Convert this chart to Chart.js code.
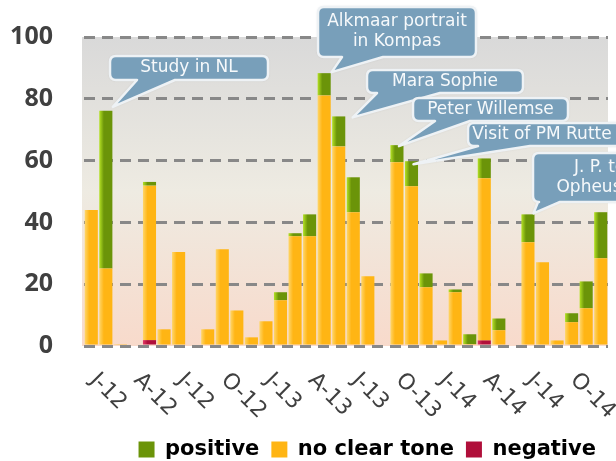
<!DOCTYPE html>
<html>
<head>
<meta charset="utf-8">
<script src="https://cdn.jsdelivr.net/npm/chart.js@4.4.1/dist/chart.umd.min.js"></script>
<style>
  html, body { margin: 0; padding: 0; background: #fff; overflow: hidden; }
  #wrap { position: relative; width: 616px; height: 470px; }
</style>
</head>
<body>
<div id="wrap"><canvas id="toneChart"></canvas></div>
<script>
// ---- data ----
const months = [
  'Jan 2012', 'Feb 2012', 'Mar 2012', 'Apr 2012', 'May 2012', 'Jun 2012',
  'Jul 2012', 'Aug 2012', 'Sep 2012', 'Oct 2012', 'Nov 2012', 'Dec 2012',
  'Jan 2013', 'Feb 2013', 'Mar 2013', 'Apr 2013', 'May 2013', 'Jun 2013',
  'Jul 2013', 'Aug 2013', 'Sep 2013', 'Oct 2013', 'Nov 2013', 'Dec 2013',
  'Jan 2014', 'Feb 2014', 'Mar 2014', 'Apr 2014', 'May 2014', 'Jun 2014',
  'Jul 2014', 'Aug 2014', 'Sep 2014', 'Oct 2014', 'Nov 2014', 'Dec 2014'
];
const tickLabels = ['J-12', 'A-12', 'J-12', 'O-12', 'J-13', 'A-13', 'J-13', 'O-13', 'J-14', 'A-14', 'J-14', 'O-14'];
const tickMonthIndex = [0, 3, 6, 9, 12, 15, 18, 21, 24, 27, 30, 33];

const negative = [
  0, 0, 0, 0, 1.9, 0, 0, 0, 0, 0, 0, 0,
  0, 0, 0, 0, 0, 0, 0, 0, 0, 0, 0, 0,
  0, 0, 0, 1.8, 0, 0, 0, 0, 0, 0, 0, 0
];
const noClearTone = [
  44, 25.1, 0.6, 0, 50, 5.4, 30.4, 0, 5.4, 31.3, 11.5, 2.8,
  8, 14.8, 35.5, 35.5, 81.1, 64.6, 43.3, 22.6, 0, 59.5, 51.7, 19,
  1.8, 17.4, 0.6, 52.5, 5.1, 0, 33.6, 27.1, 1.8, 7.7, 12.2, 28.4
];
const positive = [
  0, 51, 0, 0, 1.2, 0, 0, 0, 0, 0, 0, 0,
  0, 2.6, 1, 7.1, 7.2, 9.7, 11.3, 0, 0, 5.5, 8.1, 4.5,
  0, 0.9, 3.2, 6.4, 3.8, 0, 9, 0, 0, 2.9, 8.7, 14.9
];
const seriesNames = ['positive', 'no clear tone', 'negative'];

const calloutTexts = [
  ['Study in NL'],
  ['Alkmaar portrait', 'in Kompas'],
  ['Mara Sophie'],
  ['Peter Willemse'],
  ['Visit of PM Rutte'],
  ['J. P. ten', 'Opheusden']
];
const calloutMonthIndex = [1, 16, 17, 21, 22, 30];

// ---- styling / layout ----
const colPositive = { light: '#b4e224', base: '#6b9409' };
const colNeutral = { light: '#ffd66a', base: '#ffb514' };
const colNegative = { light: '#e43a68', base: '#b00f3a' };
const textGrey = '#404040';

// callout boxes: [x, y, w, h], pointer base on box bottom, tip offset from bar top
const calloutLayout = [
  { box: [110, 56, 158, 24], base: [137, 175], tip: [7, -4] },
  { box: [318, 7, 158, 50], base: [342, 383], tip: [7.5, -1] },
  { box: [367, 70, 156, 23], base: [377, 440], tip: [14, 1] },
  { box: [413, 98, 155, 23], base: [435, 470], tip: [2, 1] },
  { box: [468, 123, 175, 23], base: [478, 530], tip: [2, 3], cx: 542 },
  { box: [533, 153, 145, 49], base: [538, 560], tip: [5.5, -1], cx: 605 }
];

function barFill(col) {
  return function(context) {
    const chart = context.chart;
    const xs = chart.scales.x;
    if (!chart.chartArea || !xs || context.type !== 'data') return col.base;
    const cx = xs.getPixelForValue(context.dataIndex);
    const w = (xs.width / months.length) * 0.9;
    const g = chart.ctx.createLinearGradient(cx - w / 2, 0, cx + w / 2, 0);
    g.addColorStop(0, col.light);
    g.addColorStop(0.35, col.base);
    g.addColorStop(1, col.base);
    return g;
  };
}

const plotBackground = {
  id: 'plotBackground',
  beforeDraw(chart) {
    const a = chart.chartArea;
    const ctx = chart.ctx;
    const g = ctx.createLinearGradient(0, a.top, 0, a.bottom);
    g.addColorStop(0, '#d9d9d9');
    g.addColorStop(0.5, '#eeebe2');
    g.addColorStop(1, '#f8dacb');
    ctx.save();
    ctx.fillStyle = g;
    ctx.fillRect(a.left - 2, a.top, a.right - a.left + 2, a.bottom - a.top);
    ctx.restore();
  }
};

const monthLabels = {
  id: 'monthLabels',
  afterDraw(chart) {
    const ctx = chart.ctx;
    const xs = chart.scales.x;
    ctx.save();
    ctx.font = '22px "DejaVu Sans"';
    ctx.fillStyle = textGrey;
    ctx.textAlign = 'left';
    ctx.textBaseline = 'middle';
    tickLabels.forEach(function(t, i) {
      const x = xs.getPixelForValue(tickMonthIndex[i]);
      ctx.save();
      ctx.translate(x + 2, chart.chartArea.bottom + 31);
      ctx.rotate(Math.PI / 4);
      ctx.fillText(t, 0, 0);
      ctx.restore();
    });
    ctx.restore();
  }
};

const callouts = {
  id: 'callouts',
  afterDraw(chart) {
    const ctx = chart.ctx;
    const topMeta = chart.getDatasetMeta(2); // positive sits on top of the stack
    calloutTexts.forEach(function(lines, i) {
      const lay = calloutLayout[i];
      const bar = topMeta.data[calloutMonthIndex[i]];
      const tx = bar.x + lay.tip[0];
      const ty = bar.y + lay.tip[1];
      const [x, y, w, h] = lay.box;
      const r = 6;
      const b = y + h;
      ctx.save();
      ctx.beginPath();
      ctx.moveTo(x + r, y);
      ctx.lineTo(x + w - r, y);
      ctx.quadraticCurveTo(x + w, y, x + w, y + r);
      ctx.lineTo(x + w, b - r);
      ctx.quadraticCurveTo(x + w, b, x + w - r, b);
      ctx.lineTo(lay.base[1], b);
      ctx.lineTo(tx, ty);
      ctx.lineTo(lay.base[0], b);
      ctx.lineTo(x + r, b);
      ctx.quadraticCurveTo(x, b, x, b - r);
      ctx.lineTo(x, y + r);
      ctx.quadraticCurveTo(x, y, x + r, y);
      ctx.closePath();
      ctx.shadowColor = 'rgba(0,0,0,0.18)';
      ctx.shadowBlur = 3;
      ctx.fillStyle = '#789fba';
      ctx.fill();
      ctx.shadowColor = 'transparent';
      ctx.lineWidth = 2.5;
      ctx.lineJoin = 'round';
      ctx.strokeStyle = '#eef2f5';
      ctx.stroke();

      ctx.fillStyle = '#f6f9fb';
      ctx.font = '17px "DejaVu Sans"';
      ctx.textAlign = 'center';
      ctx.textBaseline = 'middle';
      const cx = lay.cx !== undefined ? lay.cx : x + w / 2;
      const lh = 20;
      const y0 = y + h / 2 - (lines.length - 1) * lh / 2;
      lines.forEach(function(s, j) { ctx.fillText(s, cx, y0 + j * lh); });
      ctx.restore();
    });
  }
};

const ctx = document.getElementById('toneChart');
new Chart(ctx, {
  type: 'bar',
  data: {
    labels: months,
    datasets: [
      { label: seriesNames[2], data: negative, backgroundColor: barFill(colNegative) },
      { label: seriesNames[1], data: noClearTone, backgroundColor: barFill(colNeutral) },
      { label: seriesNames[0], data: positive, backgroundColor: barFill(colPositive) }
    ]
  },
  options: {
    responsive: true,
    maintainAspectRatio: false,
    animation: false,
    barPercentage: 0.9,
    categoryPercentage: 1,
    layout: { padding: { top: 37, right: 8, left: 0, bottom: 0 } },
    plugins: {
      tooltip: { enabled: false },
      legend: {
        position: 'bottom',
        align: 'end',
        labels: {
          boxWidth: 16,
          boxHeight: 16,
          padding: 12,
          color: textGrey,
          font: { family: 'DejaVu Sans', size: 21, weight: 'bold' },
          generateLabels: function() {
            const cols = [colPositive.base, colNeutral.base, colNegative.base];
            return seriesNames.map(function(n, i) {
              return { text: n, fillStyle: cols[i], strokeStyle: cols[i], lineWidth: 0, hidden: false, datasetIndex: 2 - i };
            });
          }
        }
      }
    },
    scales: {
      x: {
        stacked: true,
        offset: true,
        grid: { display: false },
        border: { display: false },
        ticks: { display: false },
        afterFit: function(scale) { scale.height = 81; }
      },
      y: {
        stacked: true,
        min: 0,
        max: 100,
        ticks: {
          stepSize: 20,
          padding: 31,
          color: textGrey,
          font: { family: 'Open Sans', size: 25, weight: 'bold' }
        },
        grid: { color: '#888888', lineWidth: 3, drawTicks: false },
        border: { display: false, dash: [11, 7] },
        afterFit: function(scale) {
          scale.width = 84;
          scale.paddingTop = 0;
          scale.paddingBottom = 0;
        }
      }
    }
  },
  plugins: [plotBackground, monthLabels, callouts]
});
</script>
</body>
</html>
